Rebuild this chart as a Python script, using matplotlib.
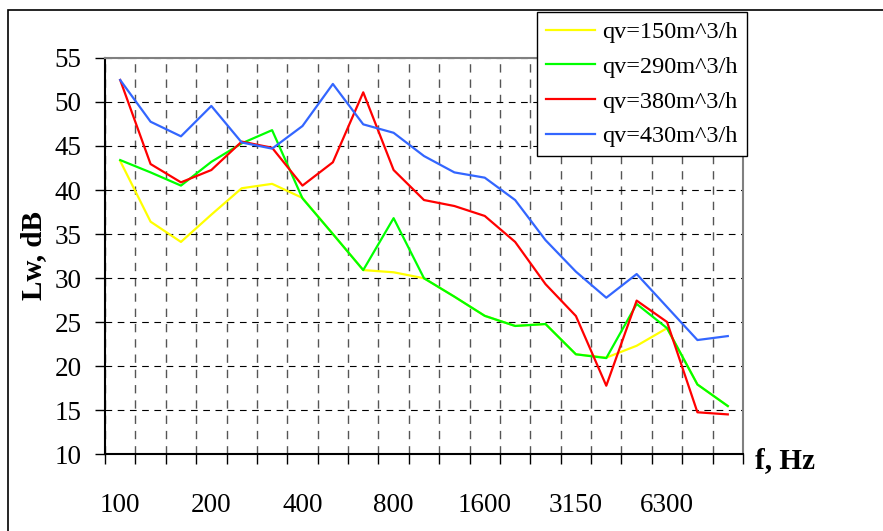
import matplotlib
matplotlib.use("Agg")
import matplotlib.pyplot as plt
from matplotlib.patches import Rectangle
import numpy as np

freqs = ["100", "125", "160", "200", "250", "315", "400", "500", "630", "800",
         "1000", "1250", "1600", "2000", "2500", "3150", "4000", "5000", "6300",
         "8000", "10000"]

qv150 = [43.3, 36.4, 34.1, 37.2, 40.2, 40.7, 39.1, 35.0, 30.9, 30.65, 29.97,
         27.88, 25.7, 24.55, 24.77, 21.33, 20.95, 22.3, 24.3, 17.9, 15.45]
qv290 = [43.4, 42.0, 40.5, 43.2, 45.3, 46.8, 39.05, 35.0, 30.9, 36.8, 29.97,
         27.88, 25.7, 24.55, 24.77, 21.33, 20.9, 27.05, 24.3, 17.9, 15.45]
qv380 = [52.5, 42.95, 40.87, 42.27, 45.5, 44.8, 40.5, 43.15, 51.1, 42.27, 38.86,
         38.18, 37.05, 34.1, 29.3, 25.68, 17.76, 27.43, 25.0, 14.74, 14.5]
qv430 = [52.5, 47.76, 46.1, 49.55, 45.4, 44.7, 47.27, 52.05, 47.46, 46.5, 43.86,
         42.0, 41.4, 38.86, 34.3, 30.72, 27.76, 30.45, 26.7, 22.95, 23.4]

series = [
    ("qv=150m^3/h", qv150, "#ffff00"),
    ("qv=290m^3/h", qv290, "#00ff00"),
    ("qv=380m^3/h", qv380, "#ff0000"),
    ("qv=430m^3/h", qv430, "#3366ff"),
]

plt.rcParams["font.family"] = ["Liberation Serif", "DejaVu Serif"]

fig = plt.figure(figsize=(8.83, 5.31), dpi=100)
ax = fig.add_axes([105 / 883, 77 / 531, 638 / 883, 396 / 531])

x = np.arange(len(freqs))
for label, vals, color in series:
    ax.plot(x, vals, color=color, lw=1.6, label=label)

ax.set_xlim(-0.5, len(freqs) - 0.5)
ax.set_ylim(10, 55)

# category boundaries as major ticks, labels every third category
ax.set_xticks(np.arange(-0.5, len(freqs)))
ax.set_xticklabels([])
ax.set_xticks(x[::3], minor=True)
ax.set_xticklabels([freqs[i] for i in x[::3]], minor=True)
ax.tick_params(axis="x", which="major", length=7, width=1, direction="out")
ax.tick_params(axis="x", which="minor", length=0, pad=28, labelsize=19.5)
ax.set_yticks(np.arange(10, 56, 5))
ax.tick_params(axis="y", length=7, width=1, direction="out", pad=10,
               labelsize=19.5)

ax.grid(True, axis="x", which="major", color="#555555", ls=(0, (6, 5)), lw=1)
ax.grid(True, axis="y", color="black", ls=(0, (6, 5)), lw=0.8)

for side in ["left", "bottom"]:
    ax.spines[side].set_color("black")
    ax.spines[side].set_linewidth(1.5)
for side in ["top", "right"]:
    ax.spines[side].set_color("#808080")
    ax.spines[side].set_linewidth(1.5)

ax.set_ylabel("Lw, dB", fontsize=21, fontweight="bold")
ax.yaxis.set_label_coords(-0.091, 0.5)
fig.text(755 / 883, 1 - 461 / 531, "f, Hz", fontsize=21, fontweight="bold",
         ha="left", va="center")

leg = ax.legend(loc="upper left", bbox_to_anchor=(537 / 883, 1 - 12 / 531),
                bbox_transform=fig.transFigure, fontsize=17.5, frameon=True,
                fancybox=False, framealpha=1, edgecolor="black",
                handlelength=2.0, handletextpad=0.3, labelspacing=0.52,
                borderpad=0.38, borderaxespad=0)
leg.get_frame().set_linewidth(1)

# outer chart border (runs off the right and bottom edges)
fig.patches.append(Rectangle((8 / 883, -0.1), 2, 1 - 10 / 531 + 0.1,
                             transform=fig.transFigure, fill=False,
                             edgecolor="black", lw=1.2))

fig.savefig("out.png", dpi=100)
